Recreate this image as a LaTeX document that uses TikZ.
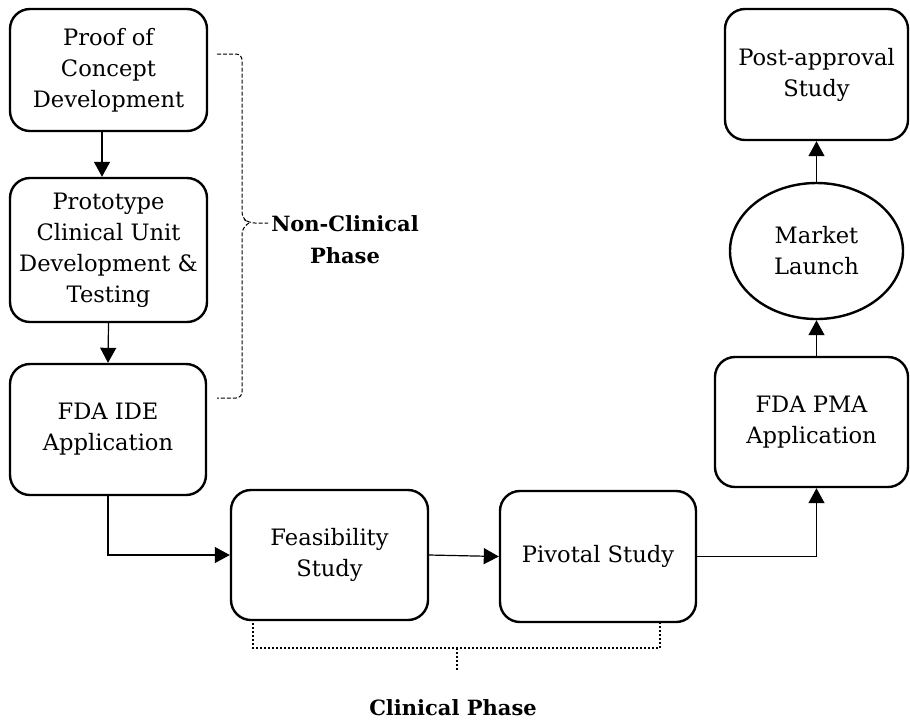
\documentclass[tikz,border=0pt]{standalone}
\usepackage{fontspec}
\setmainfont{DejaVu Serif}
\usetikzlibrary{arrows.meta, shapes.geometric}
\tikzset{
	stagebox/.style={draw, line width=1.2pt, rounded corners=10pt, align=center, inner sep=0pt,
		font=\fontsize{11.3}{15.5}\selectfont},
	launchnode/.style={draw, ellipse, line width=1.2pt, align=center, inner sep=0pt,
		minimum width=86.5pt, minimum height=68pt, font=\fontsize{11.3}{15.5}\selectfont},
	flow/.style={-{Triangle[length=7.5pt,width=8pt]}, line width=0.6pt},
	phase/.style={align=center, font=\bfseries\fontsize{10.5}{16}\selectfont},
	nonclin/.style={dash pattern=on 2pt off 1pt, line width=0.5pt, rounded corners=3pt},
	clin/.style={dash pattern=on 1pt off 1pt, line width=1.1pt},
}

\begin{document}
\begin{tikzpicture}[x=0.5pt, y=-0.5pt]
		\useasboundingbox (0,0) rectangle (910,725);
		% stages
		\node[stagebox, minimum width=98.5pt, minimum height=61pt] (poc) at (108.5,70) {Proof of\\Concept\\Development};
		\node[stagebox, minimum width=98.5pt, minimum height=72pt] (proto) at (108.5,250) {Prototype\\Clinical Unit\\Development \&\\Testing};
		\node[stagebox, minimum width=98pt, minimum height=65.5pt] (ide) at (108,429.5) {FDA IDE\\Application};
		\node[stagebox, minimum width=98.5pt, minimum height=65pt] (feas) at (329.5,555) {Feasibility\\Study};
		\node[stagebox, minimum width=98pt, minimum height=65.5pt] (pivot) at (598,556.5) {Pivotal Study};
		\node[stagebox, minimum width=96.5pt, minimum height=65pt] (pma) at (811.5,422) {FDA PMA\\Application};
		\node[launchnode] (launch) at (816.5,251) {Market\\Launch};
		\node[stagebox, minimum width=91.5pt, minimum height=65.5pt] (post) at (816.5,74.5) {Post-approval\\Study};

		% connectors
		\draw[flow] ([xshift=-3.25pt]poc.south) -- ([xshift=-3.25pt]poc.south |- proto.north);
		\draw[flow] (proto.south) -- (ide.north);
		\draw[flow] (ide.south) |- (feas.west);
		\draw[flow] (feas.east) -- (pivot.west);
		\draw[flow] (pivot.east) -| (launch.south |- pma.south);
		\draw[flow] (launch.south |- pma.north) -- (launch.south);
		\draw[flow] (launch.north) -- (post.south);

		% non-clinical brace
		\coordinate (nctip) at (268,223);
		\draw[nonclin] (217,54) -- (242,54) -- (242,218) -- (249,223) -- (nctip);
		\draw[nonclin] (249,223) -- (242,228) -- (242,398) -- (217,398);
		\node[phase] (ncphase) at (345,240) {Non-Clinical\\Phase};

		% clinical brace
		\coordinate (cltip) at (457,672);
		\draw[clin] (253,623) -- (253,648) -- (660,648) -- (660,623);
		\draw[clin] (457,648) -- (cltip);
		\node[phase] (clphase) at (453,708) {Clinical Phase};
	\end{tikzpicture}
\end{document}
